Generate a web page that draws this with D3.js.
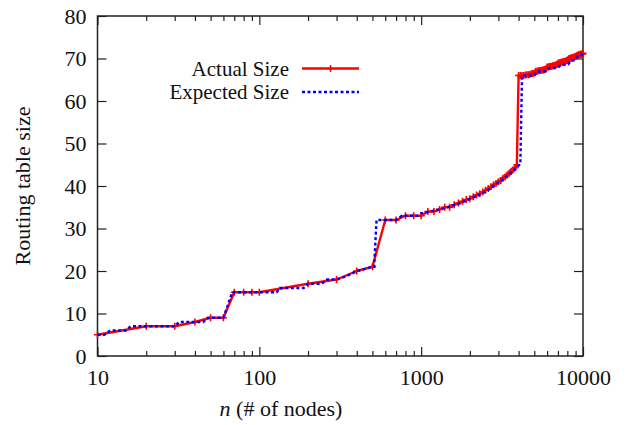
<!DOCTYPE html>
<html><head><meta charset="utf-8">
<script src="https://cdn.jsdelivr.net/npm/d3@7"></script>
<style>
html,body{margin:0;padding:0;background:#fff;}
svg{display:block;}
</style></head>
<body>
<svg id="chart" width="629" height="425" font-family="Liberation Serif, Times New Roman, serif"></svg>
<script>
// ---- data ----
const actualN = [10,20,30,40,50,60,70,80,90,100,
  200,300,400,500,600,700,800,900,1000,
  1100,1200,1300,1400,1500,1600,1700,1800,1900,2000,
  2100,2200,2300,2400,2500,2600,2700,2800,2900,3000,
  3100,3200,3300,3400,3500,3600,3700,3800,3900,4000,
  4100,4200,4300,4400,4500,4600,4700,4800,4900,5000,
  5100,5200,5300,5400,5500,5600,5700,5800,5900,6000,
  6100,6200,6300,6400,6500,6600,6700,6800,6900,7000,
  7100,7200,7300,7400,7500,7600,7700,7800,7900,8000,
  8100,8200,8300,8400,8500,8600,8700,8800,8900,9000,
  9100,9200,9300,9400,9500,9600,9700,9800,9900,10000];
const actualSize = [5,7,7,8,9,9,15,15,15,15,
  17,18,20,21,32,32,33,33,33,
  34,34,34.5,35,35,35.6,36,36.4,36.8,37,
  37.5,37.9,38.2,38.6,39,39.4,39.8,40.3,40.6,41,
  41.3,41.8,42.1,42.6,43,43.4,43.8,44.3,45,66,
  66,66,66,66.1,66.2,66.2,66.3,66.4,66.5,66.6,
  67,67,67.1,67.2,67.2,67.3,67.3,67.4,67.6,68,
  68,68.1,68.1,68.2,68.3,68.3,68.4,68.5,68.6,68.8,
  69,69,69.1,69.1,69.2,69.3,69.3,69.4,69.5,69.6,
  69.8,70,70,70.1,70.1,70.2,70.3,70.3,70.4,70.5,
  70.6,70.7,70.8,70.8,70.9,71,71,71,71.1,71.2];

const expectedN = [10,11,12,15,16,30,32,45,48,60,68,128,134,188,200,243,262,300,330,370,400,450,500,512,530,
  700,760,950,1000,1100,1200,1300,1400,1500,1600,1700,1800,1900,2000,
  2200,2400,2600,2800,3000,3200,3400,3600,3800,4000,4100,4200,
  5000,5200,5900,6100,7000,7300,8100,8400,8900,9300,10000];
const expectedSize = [5,5,6,6,7,7,8,8,9,9,15,15,16,16,17,17,18,18,18.5,19.3,20,20.5,21,21,32,
  32,33,33,33.6,33.9,34.2,34.5,34.8,35.2,35.5,35.8,36.2,36.6,37,
  37.6,38.3,39.1,40,40.8,41.6,42.4,43.2,44,44.8,45.2,66,
  66,66.9,67,67.7,67.8,68.5,68.6,69.5,69.6,70.6,71];

const xMajorTicks = [10,100,1000,10000];
const xMinorTicks = [20,30,40,50,60,70,80,90,200,300,400,500,600,700,800,900,2000,3000,4000,5000,6000,7000,8000,9000];
const yTicks = [0,10,20,30,40,50,60,70,80];
const seriesNames = ["Actual Size","Expected Size"];

// ---- layout ----
const FONT = "Liberation Serif, Times New Roman, serif";
const L = 97.5, R = 583, T = 16, B = 356;
const svg = d3.select("#chart");
const x = d3.scaleLog().domain([10,10000]).range([L,R]);
const y = d3.scaleLinear().domain([0,80]).range([B,T]);

const fontSize = 22;
function styleAxis(g){
  g.attr("font-family",FONT).attr("font-size",fontSize);
  g.select(".domain").remove();
  g.selectAll(".tick line").attr("stroke","#222").attr("stroke-width",1.2);
  g.selectAll("text").attr("fill","#111");
}

// bottom major
svg.append("g").attr("transform",`translate(0,${B})`)
  .call(d3.axisBottom(x).tickValues(xMajorTicks).tickSize(-9).tickPadding(13).tickFormat(d3.format("d")))
  .call(styleAxis);
svg.append("g").attr("transform",`translate(0,${B})`)
  .call(d3.axisBottom(x).tickValues(xMinorTicks).tickSize(-5).tickFormat(""))
  .call(styleAxis);
// top
svg.append("g").attr("transform",`translate(0,${T})`)
  .call(d3.axisTop(x).tickValues(xMajorTicks).tickSize(-9).tickFormat(""))
  .call(styleAxis);
svg.append("g").attr("transform",`translate(0,${T})`)
  .call(d3.axisTop(x).tickValues(xMinorTicks).tickSize(-5).tickFormat(""))
  .call(styleAxis);
// left
svg.append("g").attr("transform",`translate(${L},0)`)
  .call(d3.axisLeft(y).tickValues(yTicks).tickSize(-9).tickPadding(11).tickFormat(d3.format("d")))
  .call(styleAxis);
// right
svg.append("g").attr("transform",`translate(${R},0)`)
  .call(d3.axisRight(y).tickValues(yTicks).tickSize(-9).tickFormat(""))
  .call(styleAxis);

// frame
svg.append("rect").attr("x",L).attr("y",T).attr("width",R-L).attr("height",B-T)
  .attr("fill","none").attr("stroke","#222").attr("stroke-width",1.5);

// lines
const actual = actualN.map((n,i)=>({n, v: actualSize[i]}));
const expected = expectedN.map((n,i)=>({n, v: expectedSize[i]}));
const line = d3.line().x(d=>x(d.n)).y(d=>y(d.v));

svg.append("path").datum(actual).attr("d",line)
  .attr("fill","none").attr("stroke","#ff0000").attr("stroke-width",2.4).attr("stroke-linejoin","round");
const ms = 3.5;
svg.append("g").selectAll("path").data(actual).join("path")
  .attr("d",d=>{const cx=x(d.n), cy=y(d.v); return `M${cx-ms},${cy}H${cx+ms}M${cx},${cy-ms}V${cy+ms}`;})
  .attr("stroke","#ff0000").attr("stroke-width",1.6).attr("fill","none");

svg.append("path").datum(expected).attr("d",line)
  .attr("fill","none").attr("stroke","#0000ff").attr("stroke-width",2.4).attr("stroke-dasharray","3,2.5");

// legend
const legFont = 21;
const legY = [68.5, 92];
const leg = svg.append("g").attr("font-family",FONT).attr("font-size",legFont).attr("fill","#111");
leg.append("text").attr("x",289).attr("y",legY[0]+7).attr("text-anchor","end").text(seriesNames[0]);
leg.append("line").attr("x1",302).attr("x2",359).attr("y1",legY[0]).attr("y2",legY[0])
  .attr("stroke","#ff0000").attr("stroke-width",2.4);
leg.append("path").attr("d",`M${330.5-ms},${legY[0]}H${330.5+ms}M330.5,${legY[0]-ms}V${legY[0]+ms}`)
  .attr("stroke","#ff0000").attr("stroke-width",1.6);
leg.append("text").attr("x",289).attr("y",legY[1]+7).attr("text-anchor","end").text(seriesNames[1]);
leg.append("line").attr("x1",302).attr("x2",359).attr("y1",legY[1]).attr("y2",legY[1])
  .attr("stroke","#0000ff").attr("stroke-width",2.4).attr("stroke-dasharray","3,2.5");

// axis titles
svg.append("text").attr("x",281).attr("y",416).attr("text-anchor","middle")
  .attr("font-family",FONT).attr("font-size",fontSize).attr("fill","#111")
  .html('<tspan font-style="italic">n</tspan> (# of nodes)');
svg.append("text").attr("transform",`translate(30,${(T+B)/2}) rotate(-90)`)
  .attr("text-anchor","middle").attr("font-family",FONT).attr("font-size",fontSize).attr("fill","#111")
  .text("Routing table size");
</script>
</body></html>
